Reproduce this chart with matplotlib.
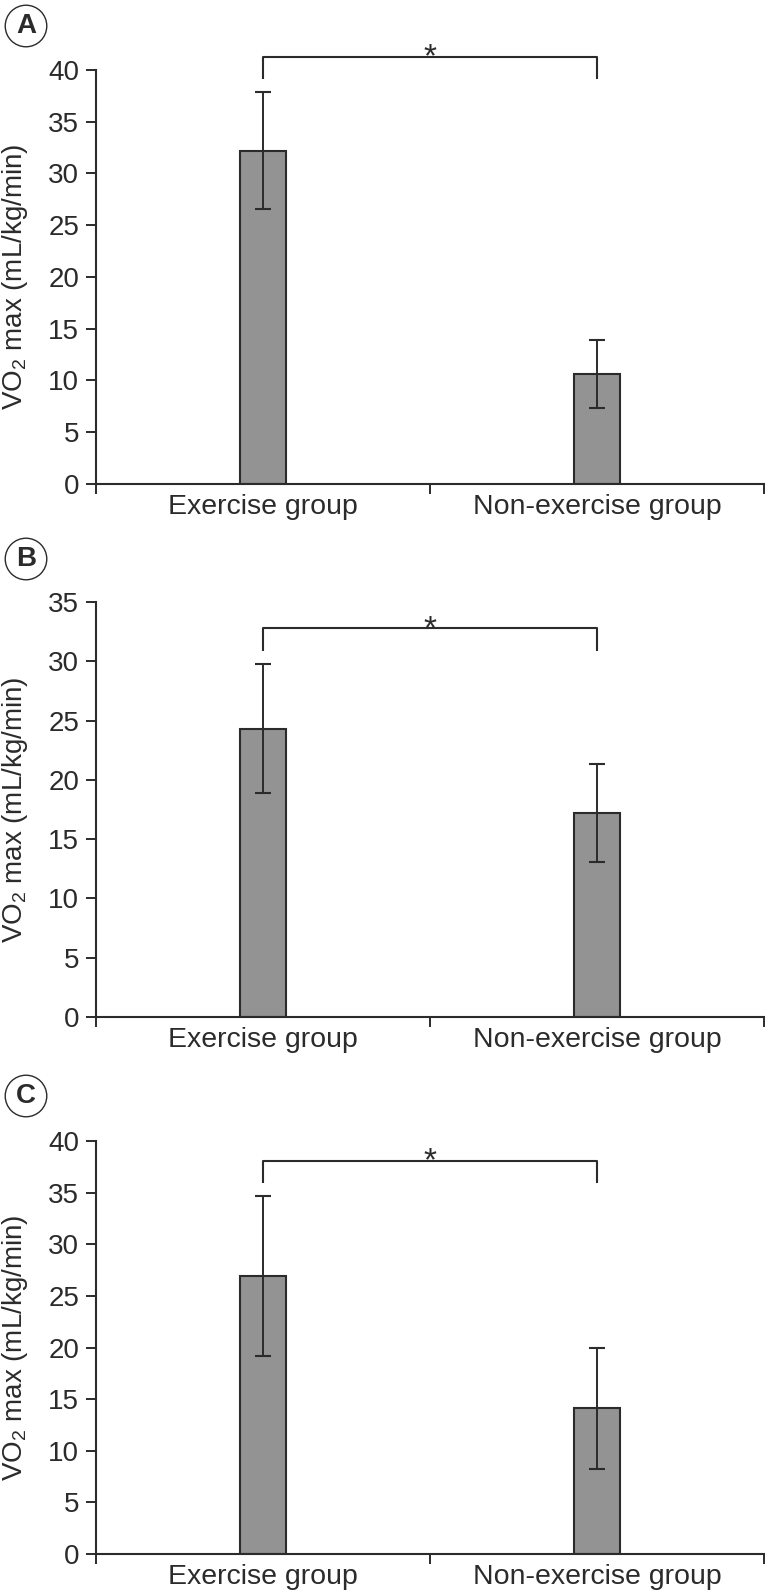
import matplotlib
matplotlib.use('Agg')
import matplotlib.pyplot as plt
import numpy as np

plt.rcParams['font.family'] = ['Liberation Sans', 'DejaVu Sans']
plt.rcParams['mathtext.fontset'] = 'custom'
plt.rcParams['mathtext.rm'] = 'Liberation Sans'
plt.rcParams['mathtext.it'] = 'Liberation Sans:italic'

# ---------------- data ----------------
categories = ['Exercise group', 'Non-exercise group']
panel_labels = ['A', 'B', 'C']

means_A = [32.2, 10.65]
sd_A = [5.65, 3.3]
means_B = [24.3, 17.2]
sd_B = [5.45, 4.1]
means_C = [26.9, 14.1]
sd_C = [7.75, 5.9]

y_max = [40, 35, 40]
bracket_y = [41.3, 32.8, 38.1]
bracket_drop = [2.2, 1.9, 2.2]
sig_mark = '*'

means = [means_A, means_B, means_C]
sds = [sd_A, sd_B, sd_C]

# ---------------- layout ----------------
W, H = 767, 1596
fig = plt.figure(figsize=(W / 100, H / 100), dpi=100)

INK = '#2b2b2b'
BAR = '#939393'

# axes pixel boxes: (left, right, top, bottom) in pixels from top-left
boxes = [(96, 764, 70, 484), (96, 764, 602, 1017), (96, 764, 1141, 1554)]
circle_centers = [(26, 26), (26, 559), (26, 1096)]

for i in range(3):
    l, r, t, b = boxes[i]
    ax = fig.add_axes([l / W, 1 - b / H, (r - l) / W, (b - t) / H])
    x = np.arange(len(categories)) + 0.5
    ax.bar(x, means[i], width=0.135, color=BAR, edgecolor=INK, linewidth=1.5, zorder=2)
    ax.errorbar(x, means[i], yerr=sds[i], fmt='none', ecolor=INK, elinewidth=1.4,
                capsize=5.6, capthick=1.5, zorder=3)
    ax.set_xlim(0, 2)
    ax.set_ylim(0, y_max[i])
    ax.set_yticks(np.arange(0, y_max[i] + 1, 5))
    ax.set_xticks([0, 1, 2])
    ax.set_xticklabels([])
    ax.set_xticks(x, minor=True)
    ax.set_xticklabels(categories, minor=True)
    ax.tick_params(axis='x', which='minor', length=0, pad=7, labelsize=20.5, labelcolor=INK)
    ax.tick_params(axis='x', which='major', length=7, width=1.4, color=INK, direction='out')
    ax.tick_params(axis='y', length=7, width=1.4, color=INK, direction='out', pad=5,
                   labelsize=20, labelcolor=INK)
    for s in ['top', 'right']:
        ax.spines[s].set_visible(False)
    for s in ['left', 'bottom']:
        ax.spines[s].set_color(INK)
        ax.spines[s].set_linewidth(1.5)
    ax.set_ylabel(r'VO$_{\mathregular{2}}$ max (mL/kg/min)', fontsize=20, color=INK)
    ax.yaxis.set_label_coords(-0.099, 0.5)

    # significance bracket
    yb = bracket_y[i]
    yd = yb - bracket_drop[i]
    ax.plot([x[0], x[0], x[1], x[1]], [yd, yb, yb, yd], color=INK, lw=1.5,
            clip_on=False, solid_capstyle='butt', zorder=4)
    ax.annotate(sig_mark, xy=(1.0, yb), xytext=(0, -7), textcoords='offset points',
                ha='center', va='baseline', fontsize=24, color=INK, annotation_clip=False)

    # panel letter in a circle
    cx, cy = circle_centers[i]
    fig.text(cx / W, 1 - cy / H, panel_labels[i], ha='center', va='center',
             fontsize=20, fontweight='bold', color=INK,
             bbox=dict(boxstyle='circle,pad=0.28', fc='white', ec=INK, lw=1.0))

fig.savefig('out.png', dpi=100)
